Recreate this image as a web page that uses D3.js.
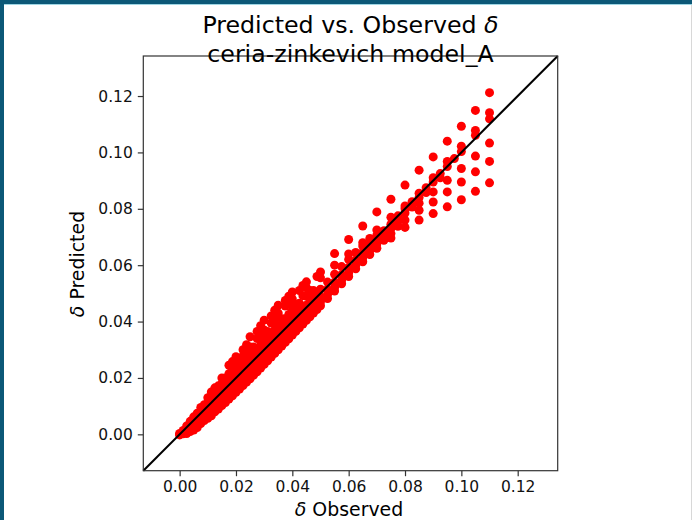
<!DOCTYPE html>
<html>
<head>
<meta charset="utf-8">
<script src="https://cdnjs.cloudflare.com/ajax/libs/d3/7.8.5/d3.min.js"></script>
<style>
  body { margin: 0; background: #fff; }
  svg { display: block; font-family: "DejaVu Sans", sans-serif; }
</style>
</head>
<body>
<div id="chart"></div>
<script>

// observed delta values (one column of points per value)
var observed = [
  0.000, 0.0025, 0.005, 0.0075, 0.010, 0.0125, 0.015, 0.0175, 0.020, 0.0225,
  0.025, 0.0275, 0.030, 0.0325, 0.035, 0.0375, 0.040, 0.0425, 0.045, 0.0475,
  0.050, 0.0525, 0.055, 0.0575, 0.060, 0.0625, 0.065, 0.0675, 0.070, 0.0725,
  0.075, 0.0775, 0.080, 0.0825, 0.085, 0.0875, 0.090, 0.0925, 0.095, 0.0975,
  0.100, 0.105, 0.110
];

// predicted delta values for each observed column
var predicted = [
  [0.0000, 0.0003, -0.0002],
  [0.0030, 0.0022, 0.0015, 0.0008, 0.0003],
  [0.0062, 0.0050, 0.0040, 0.0030, 0.0022, 0.0015],
  [0.0095, 0.0080, 0.0068, 0.0056, 0.0046, 0.0038],
  [0.0130, 0.0112, 0.0098, 0.0085, 0.0074, 0.0064, 0.0057],
  [0.0165, 0.0150, 0.0128, 0.0112, 0.0099, 0.0088, 0.0080],
  [0.0200, 0.0180, 0.0158, 0.0140, 0.0125, 0.0112, 0.0102],
  [0.0245, 0.0215, 0.0190, 0.0168, 0.0150, 0.0136, 0.0125],
  [0.0275, 0.0250, 0.0220, 0.0195, 0.0177, 0.0161, 0.0149],
  [0.0300, 0.0278, 0.0245, 0.0222, 0.0202, 0.0186, 0.0173],
  [0.0346, 0.0310, 0.0275, 0.0250, 0.0228, 0.0211, 0.0197],
  [0.0365, 0.0340, 0.0300, 0.0276, 0.0255, 0.0237, 0.0222],
  [0.0405, 0.0370, 0.0330, 0.0302, 0.0280, 0.0262, 0.0248],
  [0.0420, 0.0395, 0.0355, 0.0328, 0.0306, 0.0288, 0.0274],
  [0.0458, 0.0430, 0.0385, 0.0355, 0.0332, 0.0314, 0.0300],
  [0.0475, 0.0455, 0.0410, 0.0380, 0.0358, 0.0340, 0.0326],
  [0.0505, 0.0480, 0.0440, 0.0405, 0.0383, 0.0366, 0.0352],
  [0.0510, 0.0465, 0.0432, 0.0410, 0.0392, 0.0378],
  [0.0541, 0.0520, 0.0490, 0.0458, 0.0435, 0.0418, 0.0404],
  [0.0510, 0.0485, 0.0462, 0.0444, 0.0430],
  [0.0576, 0.0555, 0.0515, 0.0488, 0.0470, 0.0456],
  [0.0540, 0.0514, 0.0496, 0.0482],
  [0.0641, 0.0600, 0.0568, 0.0540, 0.0521, 0.0508],
  [0.0595, 0.0566, 0.0547, 0.0534],
  [0.0691, 0.0640, 0.0620, 0.0592, 0.0573, 0.0560],
  [0.0645, 0.0618, 0.0600, 0.0587],
  [0.0739, 0.0680, 0.0668, 0.0644, 0.0626, 0.0612],
  [0.0695, 0.0670, 0.0652, 0.0638],
  [0.0789, 0.0725, 0.0706, 0.0690, 0.0675, 0.0660],
  [0.0722, 0.0703, 0.0688],
  [0.0834, 0.0770, 0.0745, 0.0730, 0.0712, 0.0696],
  [0.0775, 0.0755, 0.0738],
  [0.0884, 0.0810, 0.0800, 0.0785, 0.0760, 0.0734],
  [0.0825, 0.0806],
  [0.0937, 0.0855, 0.0840, 0.0820, 0.0795, 0.0760],
  [0.0875, 0.0858],
  [0.0984, 0.0910, 0.0895, 0.0860, 0.0824, 0.0783],
  [0.0925, 0.0910],
  [0.1040, 0.0968, 0.0950, 0.0901, 0.0860, 0.0807],
  [0.0978],
  [0.1093, 0.1022, 0.1003, 0.0943, 0.0895, 0.0832],
  [0.1149, 0.1078, 0.1061, 0.0987, 0.0931, 0.0862],
  [0.1212, 0.1141, 0.1119, 0.1033, 0.0968, 0.0892]
];

// extra in-between columns in the crowded low range
var observedMid = [
  0.00125, 0.00375, 0.00625, 0.00875, 0.01125, 0.01375, 0.01625, 0.01875,
  0.02125, 0.02375, 0.02625, 0.02875, 0.03125, 0.03375, 0.03625, 0.03875,
  0.04125, 0.04375, 0.04625, 0.04875
];
var predictedMid = [
  [0.0014, 0.0008, 0.0002],
  [0.0046, 0.0036, 0.0026, 0.0017, 0.0010],
  [0.0075, 0.0064, 0.0052, 0.0041, 0.0031, 0.0024],
  [0.0105, 0.0092, 0.0082, 0.0069, 0.0058, 0.0049],
  [0.0150, 0.0130, 0.0112, 0.0098, 0.0085, 0.0074, 0.0066],
  [0.0172, 0.0158, 0.0144, 0.0126, 0.0111, 0.0099, 0.0090],
  [0.0200, 0.0185, 0.0170, 0.0154, 0.0138, 0.0124, 0.0113],
  [0.0258, 0.0232, 0.0205, 0.0182, 0.0164, 0.0149, 0.0137],
  [0.0255, 0.0238, 0.0222, 0.0207, 0.0190, 0.0174, 0.0161],
  [0.0318, 0.0292, 0.0260, 0.0236, 0.0215, 0.0198, 0.0185],
  [0.0310, 0.0290, 0.0274, 0.0258, 0.0242, 0.0224, 0.0210],
  [0.0385, 0.0355, 0.0316, 0.0289, 0.0268, 0.0250, 0.0235],
  [0.0365, 0.0345, 0.0328, 0.0312, 0.0293, 0.0275, 0.0261],
  [0.0440, 0.0410, 0.0370, 0.0342, 0.0319, 0.0301, 0.0287],
  [0.0410, 0.0392, 0.0376, 0.0360, 0.0345, 0.0327, 0.0313],
  [0.0490, 0.0466, 0.0425, 0.0393, 0.0371, 0.0353, 0.0339],
  [0.0460, 0.0440, 0.0419, 0.0396, 0.0379, 0.0365],
  [0.0528, 0.0492, 0.0445, 0.0422, 0.0405, 0.0391],
  [0.0510, 0.0490, 0.0470, 0.0448, 0.0431, 0.0417],
  [0.0560, 0.0500, 0.0475, 0.0457, 0.0443]
];

var tickValues = [0.00, 0.02, 0.04, 0.06, 0.08, 0.10, 0.12];
var axisLimits = [-0.0129, 0.1342];
var titleLines = ["Predicted vs. Observed ", "ceria-zinkevich model_A"];

var W = 692, H = 520;
var margin = {top: 56, left: 143.3, right: 692 - 557.7, bottom: 520 - 470.7};
var width = W - margin.left - margin.right,
    height = H - margin.top - margin.bottom;

var svg = d3.select("#chart").append("svg")
    .attr("width", W)
    .attr("height", H);

// slide frame (teal bars on the left and top)
svg.append("rect").attr("x", 0).attr("y", 0).attr("width", W).attr("height", H).attr("fill", "#fff");
svg.append("rect").attr("x", 0).attr("y", 0).attr("width", W).attr("height", 4).attr("fill", "#0c5877");
svg.append("rect").attr("x", 0).attr("y", 4).attr("width", W).attr("height", 1).attr("fill", "#9fd6e4");
svg.append("rect").attr("x", 0).attr("y", 0).attr("width", 4).attr("height", H).attr("fill", "#0c5877");
svg.append("rect").attr("x", W - 1).attr("y", 5).attr("width", 1).attr("height", H).attr("fill", "#d8d8d8");

var g = svg.append("g")
    .attr("transform", "translate(" + margin.left + "," + margin.top + ")");

var x = d3.scaleLinear().domain(axisLimits).range([0, width]);
var y = d3.scaleLinear().domain(axisLimits).range([height, 0]);

// flatten columns into points
var points = [];
function addCols(obsList, predList) {
  obsList.forEach(function(obs, i) {
    predList[i].forEach(function(p) {
      points.push({obs: obs, pred: p});
    });
  });
}
addCols(observed, predicted);
addCols(observedMid, predictedMid);

g.selectAll("circle.pt")
    .data(points)
  .enter().append("circle")
    .attr("class", "pt")
    .attr("cx", function(d) { return x(d.obs); })
    .attr("cy", function(d) { return y(d.pred); })
    .attr("r", 4.5)
    .attr("fill", "#f00");

// y = x reference line
g.append("line")
    .attr("x1", x(axisLimits[0])).attr("y1", y(axisLimits[0]))
    .attr("x2", x(axisLimits[1])).attr("y2", y(axisLimits[1]))
    .attr("stroke", "#000")
    .attr("stroke-width", 2);

var xAxis = g.append("g")
    .attr("transform", "translate(0," + height + ")")
    .call(d3.axisBottom(x).tickValues(tickValues).tickFormat(d3.format(".2f")).tickSizeInner(5.5).tickSizeOuter(0).tickPadding(5));
var yAxis = g.append("g")
    .call(d3.axisLeft(y).tickValues(tickValues).tickFormat(d3.format(".2f")).tickSizeInner(5.5).tickSizeOuter(0).tickPadding(5));

[xAxis, yAxis].forEach(function(a) {
  a.select(".domain").remove();
  a.selectAll(".tick line").attr("stroke", "#333").attr("stroke-width", 1.2);
  a.selectAll(".tick text")
    .attr("fill", "#111")
    .style("font-family", "DejaVu Sans")
    .style("font-size", "15.5px");
});

// box around plot
g.append("rect")
    .attr("width", width).attr("height", height)
    .attr("fill", "none")
    .attr("stroke", "#333")
    .attr("stroke-width", 1.2);

// titles
var t1 = svg.append("text")
    .attr("x", 350.5).attr("y", 33.3)
    .attr("text-anchor", "middle")
    .style("font-size", "23.7px")
    .attr("fill", "#000");
t1.append("tspan").text(titleLines[0]);
t1.append("tspan").style("font-style", "italic").text("δ");

svg.append("text")
    .attr("x", 350.5).attr("y", 61.7)
    .attr("text-anchor", "middle")
    .style("font-size", "23.7px")
    .attr("fill", "#000")
    .text(titleLines[1]);

// axis labels
var xl = svg.append("text")
    .attr("x", 349).attr("y", 516)
    .attr("text-anchor", "middle")
    .style("font-size", "18.9px")
    .attr("fill", "#000");
xl.append("tspan").style("font-style", "italic").text("δ");
xl.append("tspan").text(" Observed");

var yl = svg.append("text")
    .attr("transform", "translate(83.5,264) rotate(-90)")
    .attr("text-anchor", "middle")
    .style("font-size", "18.9px")
    .attr("fill", "#000");
yl.append("tspan").style("font-style", "italic").text("δ");
yl.append("tspan").text(" Predicted");

</script>
</body>
</html>
